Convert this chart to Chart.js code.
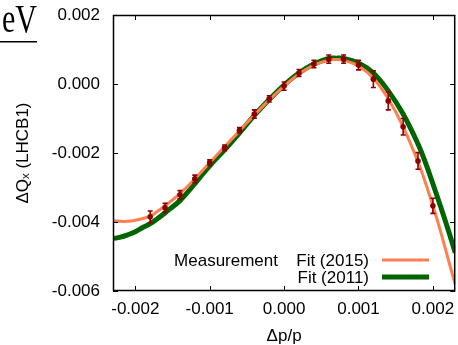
<!DOCTYPE html>
<html><head><meta charset="utf-8">
<script src="https://cdn.jsdelivr.net/npm/chart.js@4.4.1/dist/chart.umd.min.js"></script>
<style>html,body{margin:0;padding:0;background:#fff;overflow:hidden}#wrap{width:458px;height:345px;position:relative}</style>
</head><body><div id="wrap"><canvas id="c" width="458" height="345"></canvas></div>
<script>
// ---- data ----
const xTickValues = [-0.002, -0.001, 0.000, 0.001, 0.002];
const yTickValues = [-0.006, -0.004, -0.002, 0.000, 0.002];

const measX   = [-0.0018,-0.0016,-0.0014,-0.0012,-0.0010,-0.0008,-0.0006,-0.0004,-0.0002,0.0000,0.0002,0.0004,0.0006,0.0008,0.0010,0.0012,0.0014,0.0016,0.0018,0.0020];
const measY   = [-0.00385,-0.00359,-0.00321,-0.00275,-0.00228,-0.00185,-0.00134,-0.00087,-0.00043,-0.00006,0.00032,0.00058,0.00072,0.00072,0.00055,0.00014,-0.00049,-0.00124,-0.00223,-0.00353];
const measErr = [0.00017,0.00013,0.00012,0.00011,0.00008,0.00008,0.00008,0.00012,0.00009,0.00012,0.00010,0.00011,0.00012,0.00012,0.00014,0.00024,0.00026,0.00024,0.00024,0.00022];

const fit2015X = [-0.0023,-0.0022,-0.0021,-0.0020,-0.0019,-0.0018,-0.0017,-0.0016,-0.0014,-0.0012,-0.0010,-0.0008,-0.0006,-0.0004,-0.0002,0.0000,0.0002,0.0004,0.0006,0.0007,0.0008,0.0010,0.0012,0.0014,0.0016,0.0018,0.0019,0.0020,0.0021,0.0022,0.0023];
const fit2015Y = [-0.00396,-0.00398,-0.00398,-0.00395,-0.00390,-0.00383,-0.00369,-0.00353,-0.00318,-0.00275,-0.00228,-0.00182,-0.00136,-0.00090,-0.00046,-0.00006,0.00029,0.00055,0.00069,0.00071,0.00069,0.00052,0.00017,-0.00043,-0.00124,-0.00226,-0.00286,-0.00353,-0.00425,-0.00503,-0.00581];

const fit2011X = [-0.0023,-0.0022,-0.0021,-0.0020,-0.0019,-0.0018,-0.0017,-0.0016,-0.0014,-0.0012,-0.0010,-0.0008,-0.0006,-0.0004,-0.0002,0.0000,0.0002,0.0004,0.0006,0.0007,0.0008,0.0010,0.0012,0.0014,0.0016,0.0018,0.0019,0.0020,0.0021,0.0022,0.0023];
const fit2011Y = [-0.00448,-0.00444,-0.00437,-0.00428,-0.00416,-0.00405,-0.00390,-0.00373,-0.00338,-0.00289,-0.00237,-0.00191,-0.00142,-0.00091,-0.00045,-0.00003,0.00032,0.00058,0.00074,0.00075,0.00074,0.00061,0.00032,-0.00020,-0.00087,-0.00174,-0.00228,-0.00289,-0.00353,-0.00419,-0.00489];

const legendLabels = ['Measurement', 'Fit (2015)', 'Fit (2011)'];
const xTitle = 'Δp/p';
const yTitle = 'ΔQₓ (LHCB1)';
const cornerText = 'eV';

// ---- styles ----
const FONT = '"Liberation Sans", Arial, sans-serif';
const C_MEAS = '#8b0000';
const C_2015 = '#ff7f50';
const C_2011 = '#006400';

const toXY = (xs, ys) => xs.map((x, i) => ({x, y: ys[i]}));

const decorPlugin = {
  id: 'decor',
  afterDatasetsDraw(chart) {
    const ctx = chart.ctx, xs = chart.scales.x, ys = chart.scales.y;
    ctx.save();
    ctx.strokeStyle = C_MEAS;
    ctx.lineWidth = 1.6;
    measX.forEach((xv, i) => {
      const px = xs.getPixelForValue(xv);
      const y1 = ys.getPixelForValue(measY[i] - measErr[i]);
      const y2 = ys.getPixelForValue(measY[i] + measErr[i]);
      ctx.beginPath();
      ctx.moveTo(px, y1); ctx.lineTo(px, y2);
      ctx.moveTo(px - 2.5, y1); ctx.lineTo(px + 2.5, y1);
      ctx.moveTo(px - 2.5, y2); ctx.lineTo(px + 2.5, y2);
      ctx.stroke();
    });
    ctx.restore();
  },
  afterDraw(chart) {
    const ctx = chart.ctx, a = chart.chartArea, xs = chart.scales.x, ys = chart.scales.y;
    ctx.save();
    // frame
    ctx.strokeStyle = '#000';
    ctx.lineWidth = 1.5;
    ctx.strokeRect(a.left + 0.5, a.top + 0.5, a.right - a.left - 1, a.bottom - a.top - 1);
    // inward ticks, mirrored
    ctx.lineWidth = 1;
    ctx.beginPath();
    xTickValues.forEach(v => {
      const px = Math.round(xs.getPixelForValue(v)) + 0.5;
      ctx.moveTo(px, a.bottom); ctx.lineTo(px, a.bottom - 5);
      ctx.moveTo(px, a.top); ctx.lineTo(px, a.top + 5);
    });
    yTickValues.forEach(v => {
      const py = Math.round(ys.getPixelForValue(v)) + 0.5;
      ctx.moveTo(a.left, py); ctx.lineTo(a.left + 5, py);
      ctx.moveTo(a.right, py); ctx.lineTo(a.right - 5, py);
    });
    ctx.stroke();
    // legend
    ctx.font = '17px ' + FONT;
    ctx.fillStyle = '#000';
    ctx.textAlign = 'right';
    ctx.textBaseline = 'middle';
    ctx.fillText(legendLabels[0], 278, 261);
    ctx.fillText(legendLabels[1], 369, 261);
    ctx.fillText(legendLabels[2], 369, 278);
    ctx.lineCap = 'butt';
    ctx.strokeStyle = C_2015; ctx.lineWidth = 3;
    ctx.beginPath(); ctx.moveTo(382, 260); ctx.lineTo(429, 260); ctx.stroke();
    ctx.strokeStyle = C_2011; ctx.lineWidth = 5;
    ctx.beginPath(); ctx.moveTo(382, 277); ctx.lineTo(429, 277); ctx.stroke();
    // cut-off corner text
    ctx.save();
    ctx.font = '40px "Liberation Serif", "DejaVu Serif", serif';
    ctx.textAlign = 'right';
    ctx.textBaseline = 'alphabetic';
    ctx.translate(37, 32);
    ctx.scale(0.75, 1);
    ctx.fillText(cornerText, 0, 0);
    ctx.restore();
    ctx.fillStyle = '#000';
    ctx.fillRect(0, 41, 37, 1.5);
    ctx.restore();
  }
};

new Chart(document.getElementById('c'), {
  type: 'scatter',
  data: {
    datasets: [
      {label: legendLabels[0], data: toXY(measX, measY), showLine: false, pointRadius: 2.8, pointHoverRadius: 2.8,
       backgroundColor: C_MEAS, borderColor: C_MEAS, borderWidth: 0, order: 0},
      {label: legendLabels[1], data: toXY(fit2015X, fit2015Y), showLine: true, pointRadius: 0, borderColor: C_2015,
       borderWidth: 3, tension: 0.4, order: 1},
      {label: legendLabels[2], data: toXY(fit2011X, fit2011Y), showLine: true, pointRadius: 0, borderColor: C_2011,
       borderWidth: 5, tension: 0.4, order: 2}
    ]
  },
  options: {
    responsive: false,
    animation: false,
    devicePixelRatio: 1,
    layout: {padding: {top: 15, right: 1, left: 0, bottom: 0}},
    plugins: {legend: {display: false}, tooltip: {enabled: false}},
    scales: {
      x: {
        type: 'linear', min: -0.0023, max: 0.0023,
        grid: {display: false, drawTicks: false},
        border: {display: false},
        afterBuildTicks: s => { s.ticks = xTickValues.map(v => ({value: v})); },
        afterFit: s => { s.height = 54; s.paddingLeft = 0; s.paddingRight = 0; },
        ticks: {padding: 8, color: '#000', font: {family: FONT, size: 17},
                maxRotation: 0, autoSkip: false, callback: v => v.toFixed(3)},
        title: {display: true, text: xTitle, color: '#000', font: {family: FONT, size: 17, lineHeight: 1},
                padding: {top: 0, bottom: 0}}
      },
      y: {
        type: 'linear', min: -0.006, max: 0.002,
        grid: {display: false, drawTicks: false},
        border: {display: false},
        afterBuildTicks: s => { s.ticks = yTickValues.map(v => ({value: v})); },
        afterFit: s => { s.width = 113; s.paddingTop = 0; s.paddingBottom = 0; },
        ticks: {padding: 13, color: '#000', font: {family: FONT, size: 17}, autoSkip: false,
                callback: v => v.toFixed(3)},
        title: {display: true, text: yTitle, color: '#000', font: {family: FONT, size: 17, lineHeight: 1},
                padding: {top: 15, bottom: 0}}
      }
    }
  },
  plugins: [decorPlugin]
});
</script>
</body></html>
